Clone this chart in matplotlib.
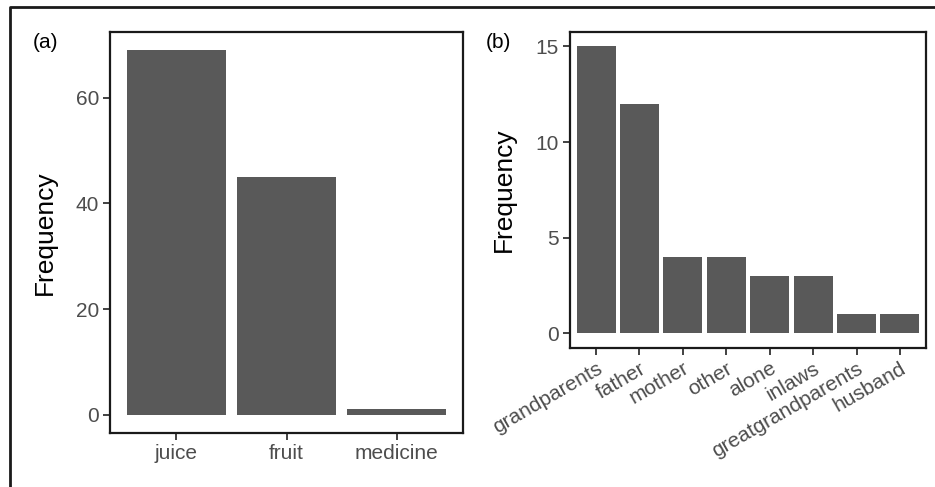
import matplotlib
matplotlib.use("Agg")
import matplotlib.pyplot as plt
from matplotlib.lines import Line2D

plt.rcParams['font.family'] = ['Liberation Sans', 'DejaVu Sans']

# Panel (a)
cats_a = ["juice", "fruit", "medicine"]
vals_a = [69, 45, 1]
yticks_a = [0, 20, 40, 60]

# Panel (b)
cats_b = ["grandparents", "father", "mother", "other", "alone", "inlaws",
          "greatgrandparents", "husband"]
vals_b = [15, 12, 4, 4, 3, 3, 1, 1]
yticks_b = [0, 5, 10, 15]

W, H = 935, 487
fig = plt.figure(figsize=(W / 100, H / 100), dpi=100)

bar_color = "#595959"
tick_col = "#4D4D4D"
tick_fs = 15
title_fs = 19


def style(ax, cats, vals, yticks, rot):
    x = list(range(1, len(cats) + 1))
    ax.bar(x, vals, width=0.9, color=bar_color, edgecolor="none")
    ax.set_xlim(0.4, len(cats) + 0.6)
    ymax = max(vals)
    ax.set_ylim(-0.05 * ymax, ymax * 1.05)
    ax.set_xticks(x)
    ax.set_yticks(yticks)
    ax.set_yticklabels([str(v) for v in yticks])
    if rot:
        ax.set_xticklabels(cats, rotation=30, ha="right", va="top",
                           rotation_mode="anchor")
    else:
        ax.set_xticklabels(cats)
    for s in ax.spines.values():
        s.set_linewidth(1.6)
        s.set_color("#1a1a1a")
    ax.tick_params(axis="both", length=5, width=1.3, color="#333333",
                   labelcolor=tick_col, labelsize=tick_fs, pad=3)
    ax.set_ylabel("Frequency", fontsize=title_fs, color="black")
    ax.yaxis.label.set_va("center")
    return ax


ax_a = fig.add_axes([110 / W, 1 - 433 / H, 353 / W, 401 / H])
style(ax_a, cats_a, vals_a, yticks_a, False)
ax_a.yaxis.set_label_coords((45 - 110) / 353, 0.5)

ax_b = fig.add_axes([570 / W, 1 - 347.7 / H, 356 / W, 315.7 / H])
style(ax_b, cats_b, vals_b, yticks_b, True)
ax_b.yaxis.set_label_coords((504 - 570) / 356, 0.5)

fig.text(33 / W, 1 - 42 / H, "(a)", fontsize=15, color="black",
         ha="left", va="center")
fig.text(486 / W, 1 - 42 / H, "(b)", fontsize=15, color="black",
         ha="left", va="center")

# partial figure frame (top and left)
fig.add_artist(Line2D([10 / W, 10 / W, 1.0], [0.0, 1 - 6.5 / H, 1 - 6.5 / H],
                      transform=fig.transFigure, color="#1a1a1a", lw=2.0))

fig.savefig("out.png", dpi=100)
